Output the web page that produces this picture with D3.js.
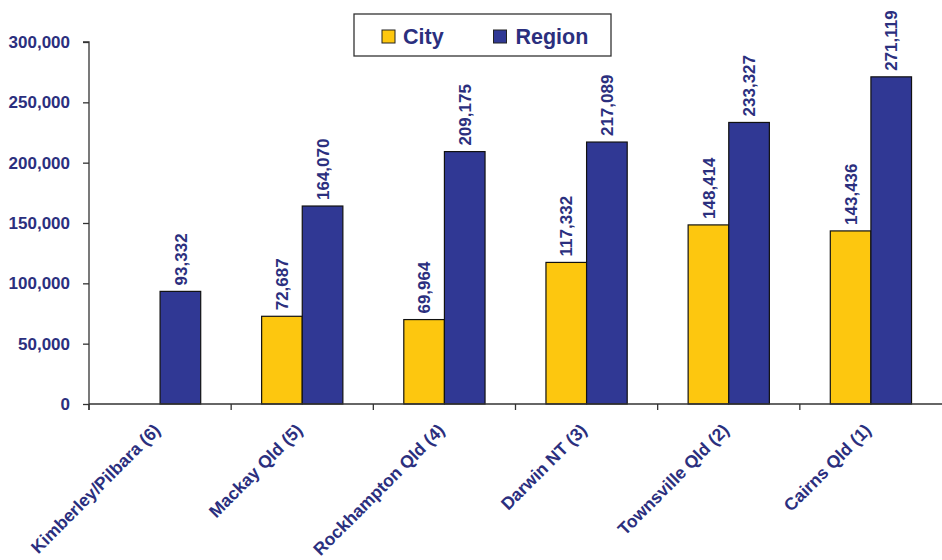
<!DOCTYPE html>
<html><head><meta charset="utf-8">
<script src="https://cdn.jsdelivr.net/npm/d3@7"></script>
<style>body{margin:0;background:#fff}svg{display:block;font-family:"Liberation Sans",Arial,sans-serif}</style>
</head><body><svg id="c" width="942" height="560"></svg>
<script>
const categories = ["Kimberley/Pilbara (6)","Mackay Qld (5)","Rockhampton Qld (4)","Darwin NT (3)","Townsville Qld (2)","Cairns Qld (1)"];
const cityValues = [null, 72687, 69964, 117332, 148414, 143436];
const regionValues = [93332, 164070, 209175, 217089, 233327, 271119];
const seriesNames = ["City","Region"];
const yTicks = [0,50000,100000,150000,200000,250000,300000];

(function(){
const colors = {City:"#FDC70F", Region:"#303894"};
const textColor = "#2B2F7E";
const svg = d3.select("#c");
const mLeft = 89, mRight = 942, mTop = 42, mBottom = 404;

const x = d3.scaleBand().domain(categories).range([mLeft, mRight]).padding(0);
const xs = d3.scaleBand().domain(seriesNames).range([0, x.bandwidth()]).paddingInner(0).paddingOuter(0.75);
const y = d3.scaleLinear().domain([0,300000]).range([mBottom, mTop]);

const data = categories.map((c,i)=>({cat:c, City:cityValues[i], Region:regionValues[i]}));

const g = svg.append("g");
data.forEach(d=>{
  seriesNames.forEach(s=>{
    const v = d[s];
    if (v == null) return;
    const bx = x(d.cat) + xs(s);
    g.append("rect").attr("x", bx).attr("y", y(v)).attr("width", xs.bandwidth()).attr("height", y(0)-y(v))
      .attr("fill", colors[s]).attr("stroke", "#111").attr("stroke-width", 1.2);
    g.append("text").attr("transform", `translate(${bx + xs.bandwidth()/2},${y(v)-6}) rotate(-90)`)
      .attr("dy","0.36em").attr("text-anchor","start").attr("fill", textColor)
      .attr("font-weight","bold").attr("font-size", 17).text(d3.format(",")(v));
  });
});

const yAxis = svg.append("g").attr("transform", `translate(${mLeft},0)`)
  .call(d3.axisLeft(y).tickValues(yTicks).tickFormat(d3.format(",")).tickSize(6).tickPadding(13));
yAxis.select(".domain").attr("stroke","#333").attr("stroke-width",1.3).attr("d", `M-6,${mTop}H0V${mBottom+6}`);
yAxis.selectAll(".tick line").attr("stroke","#333").attr("stroke-width",1.3);
yAxis.selectAll("text").attr("fill", textColor).attr("font-weight","bold").attr("font-size",17)
  .attr("font-family","'Liberation Sans',Arial,sans-serif");

const xAxisG = svg.append("g").attr("transform", `translate(0,${mBottom})`);
xAxisG.append("line").attr("x1", mLeft).attr("x2", mRight).attr("y1",0).attr("y2",0).attr("stroke","#333").attr("stroke-width",1.3);
categories.forEach((c)=>{
  const tx = x(c);
  xAxisG.append("line").attr("x1", tx).attr("x2", tx).attr("y1",0).attr("y2",6).attr("stroke","#333").attr("stroke-width",1.3);
  xAxisG.append("text").attr("transform", `translate(${tx + x.bandwidth()/2 - 3},${23}) rotate(-45)`)
    .attr("text-anchor","end").attr("dy","0.35em").attr("fill", textColor).attr("font-weight","bold")
    .attr("font-size",17.5).text(c);
});

const lg = svg.append("g");
lg.append("rect").attr("x",354).attr("y",14).attr("width",257).attr("height",42).attr("fill","#fff").attr("stroke","#333").attr("stroke-width",1.3);
const legendItems = [{name:"City", sx:382, tx:403},{name:"Region", sx:493.5, tx:515.5}];
legendItems.forEach(it=>{
  lg.append("rect").attr("x",it.sx).attr("y",30).attr("width",13).attr("height",13).attr("fill",colors[it.name]).attr("stroke","#222").attr("stroke-width",1);
  lg.append("text").attr("x",it.tx).attr("y",36.5).attr("dy","0.36em").attr("fill",textColor).attr("font-weight","bold").attr("font-size",21.5).text(it.name);
});
})();
</script></body></html>
